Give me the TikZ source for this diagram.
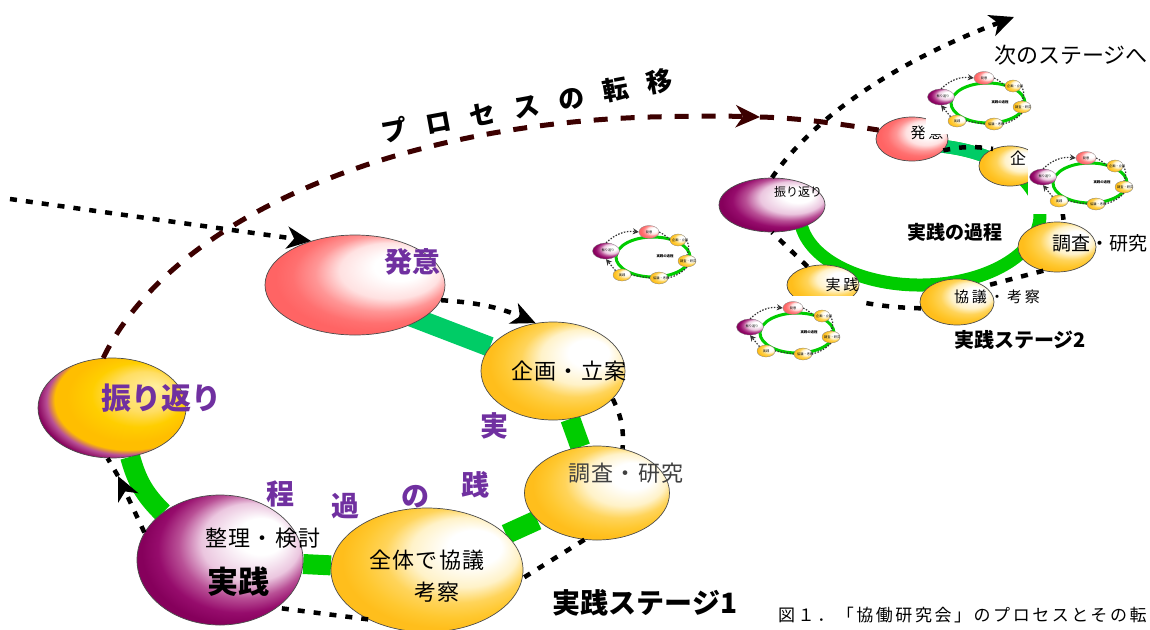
\documentclass[tikz,border=0pt]{standalone}
\usepackage{fontspec}
\setmainfont{Noto Sans CJK JP}
\usetikzlibrary{shapes.geometric,arrows.meta,backgrounds}

\definecolor{labpurple}{RGB}{112,48,160}
\definecolor{ringgreen}{RGB}{0,204,0}
\definecolor{ringteal}{RGB}{0,204,102}
\definecolor{transbrown}{RGB}{60,0,0}
\definecolor{pinkA}{RGB}{255,225,225}
\definecolor{pinkB}{RGB}{255,150,150}
\definecolor{pinkC}{RGB}{255,112,112}
\definecolor{pinkD}{RGB}{255,100,100}
\definecolor{yelA}{RGB}{255,242,200}
\definecolor{yelB}{RGB}{255,212,90}
\definecolor{yelC}{RGB}{255,200,48}
\definecolor{yelD}{RGB}{255,190,28}
\definecolor{purA}{RGB}{235,198,223}
\definecolor{purB}{RGB}{185,80,150}
\definecolor{purC}{RGB}{150,12,108}
\definecolor{purD}{RGB}{134,0,92}
\definecolor{furO}{RGB}{255,238,160}
\definecolor{furA}{RGB}{255,222,100}
\definecolor{furB}{RGB}{255,206,0}
\definecolor{furC}{RGB}{255,190,0}

% 輪郭は25bpに相当
\pgfdeclareradialshading{pinkball}{\pgfpoint{15bp}{11bp}}{color(0bp)=(white); color(7bp)=(white); color(14bp)=(pinkA); color(19bp)=(pinkB); color(23.5bp)=(pinkC); color(27bp)=(pinkD); color(40bp)=(pinkD)}
\pgfdeclareradialshading{yellowball}{\pgfpoint{15bp}{11bp}}{color(0bp)=(white); color(7bp)=(white); color(14bp)=(yelA); color(19bp)=(yelB); color(23.5bp)=(yelC); color(27bp)=(yelD); color(40bp)=(yelD)}
\pgfdeclareradialshading{purpleball}{\pgfpoint{15bp}{11bp}}{color(0bp)=(white); color(7bp)=(white); color(15bp)=(purA); color(20bp)=(purB); color(24.5bp)=(purC); color(28bp)=(purD); color(40bp)=(purD)}
\pgfdeclareradialshading{furiball}{\pgfpoint{15bp}{11bp}}{color(0bp)=(furO); color(10bp)=(furA); color(16bp)=(furB); color(22bp)=(furC); color(25bp)=(furC); color(27bp)=(purB); color(29.5bp)=(purD); color(40bp)=(purD)}

\tikzset{
  phase/.style={ellipse, draw=black!70, line width=0.7pt, inner sep=0pt, shade},
  lbl/.style={font=\fontsize{22}{22}\selectfont\addfontfeature{LetterSpace=6}, inner sep=0pt},
  plabel/.style={font=\bfseries\fontsize{28}{28}\selectfont, text=labpurple, inner sep=0pt},
  ring/.style={line width=20pt, draw=ringgreen},
  ringtwo/.style={line width=13pt, draw=ringgreen},
  cycdot/.style={line width=4.5pt, dash pattern=on 7pt off 9pt, draw=black},
  transfer/.style={line width=5pt, dash pattern=on 14pt off 13pt, draw=transbrown},
  bigtip/.style={-{Stealth[length=24pt,width=22pt,inset=7pt]}},
  mphase/.style={ellipse, draw=black!50, line width=0.3pt, inner sep=0pt, shade},
  mtext/.style={font=\fontsize{3.2}{3.2}\selectfont, inner sep=0pt},
  mdot/.style={line width=1.2pt, dash pattern=on 1.5pt off 1.5pt, draw=black!80},
  mtip/.style={-{Stealth[length=6pt,width=6pt]}},
  minicycle/.pic={
    \fill[white] (-62,-37) rectangle (62,31);
    \draw[line width=3pt, draw=ringgreen] (0,0) ellipse [x radius=37, y radius=20];
    \node[mphase, shading=pinkball, minimum width=20pt, minimum height=13pt] (-pk) at (-4,-25) {};
    \node[mphase, shading=yellowball, minimum width=16pt, minimum height=12pt] (-kk) at (25,-17) {};
    \node[mphase, shading=purpleball, minimum width=27pt, minimum height=16pt] (-fr) at (-47,-6) {};
    \node[mphase, shading=yellowball, minimum width=18pt, minimum height=12pt] (-ch) at (34,4) {};
    \node[mphase, shading=yellowball, minimum width=18pt, minimum height=12pt] (-ky) at (6,21) {};
    \node[mphase, shading=yellowball, minimum width=18pt, minimum height=12pt] (-jp) at (-31,18) {};
    \node[mtext] (-pkt) at (-4,-25) {発意};
    \node[mtext, anchor=west] (-kkt) at (19,-17) {企画・立案};
    \node[mtext] (-frt) at (-45,-7) {振り返り};
    \node[mtext, anchor=west] (-cht) at (27,4) {調査・研究};
    \node[mtext, anchor=west] (-kyt) at (0,21) {協議・考察};
    \node[mtext] (-jpt) at (-31,18) {実践};
    \node[mtext, font=\bfseries\fontsize{3.4}{3.4}\selectfont] (-kt) at (12,-1) {実践の過程};
    \draw[mdot, mtip] (-fr.north) to[bend left=25] (-pk.west);
    \draw[mdot] (-pk.east) to[bend left=10] (-kk.west);
    \draw[mdot] (-kk.east) to[bend left=30] (-ch.north);
    \draw[mdot] (-ch.south) to[bend left=15] (-ky.east);
    \draw[mdot] (-ky.west) -- (-jp.east);
    \draw[mdot, mtip] (-jp.north west) -- (-fr.south);
  }
}

\begin{document}
\begin{tikzpicture}[x=1pt, y=-1pt]
\useasboundingbox (0,0) rectangle (1150,629);

% 実践ステージ1
\node[phase, shading=pinkball, minimum width=180pt, minimum height=100pt] (hatsui) at (355,285) {};
\node[phase, shading=yellowball, minimum width=144pt, minimum height=98pt] (kikaku) at (553,371) {};
\node[phase, shading=yellowball, minimum width=192pt, minimum height=124pt] (zentai) at (427,570) {};
\node[phase, shading=yellowball, minimum width=145pt, minimum height=94pt] (chosa) at (597,493) {};
\node[phase, shading=purpleball, minimum width=166pt, minimum height=130pt] (jissen) at (220,560) {};
\node[phase, shading=furiball, minimum width=148pt, minimum height=100pt] (furi) at (112,408) {};

\node[plabel] (hatsuit) at (412,262) {発意};
\node[lbl] (kikakut) at (569,371) {企画・立案};
\node[lbl, text=black!75] (chosat) at (626,473) {調査・研究};
\node[lbl] (seirit) at (263,538) {整理・検討};
\node[lbl, font=\bfseries\fontsize{31}{31}\selectfont] (jissent) at (238,582) {実践};
\node[lbl] (zentait) at (427,560) {全体で協議};
\node[lbl] (kosatsut) at (437,592) {考察};
\node[plabel, font=\bfseries\fontsize{30}{30}\selectfont] (furit) at (161,398) {振り返り};

% 実践の過程（弧に沿って）
\node[plabel] (arcA) at (494,426) {実};
\node[plabel] (arcB) at (475,485) {践};
\node[plabel] (arcC) at (415,497) {の};
\node[plabel] (arcD) at (345,506) {過};
\node[plabel] (arcE) at (280,494) {程};

\node[font=\bfseries\fontsize{28}{28}\selectfont, inner sep=0pt] (stageone) at (645,603) {実践ステージ1};
\node[font=\bfseries\fontsize{26}{26}\selectfont\addfontfeature{LetterSpace=73}, inner sep=0pt, rotate=10.4] (transt) at (527,106) {プロセスの転移};
\node[font=\fontsize{17}{17}\selectfont\addfontfeature{LetterSpace=15}, inner sep=0pt, anchor=west] (caption) at (778,615) {図１．「協働研究会」のプロセスとその転};

% 実践ステージ2
\node[phase, shading=purpleball, minimum width=106pt, minimum height=54pt] (hur2) at (772,205) {};
\node[phase, shading=pinkball, minimum width=72pt, minimum height=44pt] (hatsui2) at (912,139) {};
\node[phase, shading=yellowball, minimum width=62pt, minimum height=40pt] (kikaku2) at (1010,166) {};
\node[phase, shading=yellowball, minimum width=78pt, minimum height=50pt] (chosa2) at (1057,247) {};
\node[phase, shading=yellowball, minimum width=74pt, minimum height=46pt] (kyogi2) at (957,302) {};
\node[phase, shading=yellowball, minimum width=72pt, minimum height=40pt] (jissen2) at (823,285) {};

\node[font=\fontsize{12}{12}\selectfont, inner sep=0pt] (hur2t) at (798,192) {振り返り};
\node[font=\fontsize{15}{15}\selectfont\addfontfeature{LetterSpace=18}, inner sep=0pt] (hatsui2t) at (927,133) {発意};
\node[font=\fontsize{16}{16}\selectfont, inner sep=0pt] (kikaku2t) at (1018,158) {企};
\node[font=\fontsize{19}{19}\selectfont, inner sep=0pt] (chosa2t) at (1100,243) {調査・研究};
\node[font=\fontsize{15}{15}\selectfont\addfontfeature{LetterSpace=18}, inner sep=0pt] (kyogi2t) at (997,297) {協議・考察};
\node[font=\fontsize{15}{15}\selectfont\addfontfeature{LetterSpace=18}, inner sep=0pt] (jissen2t) at (842,285) {実践};
\node[font=\bfseries\fontsize{19}{19}\selectfont, inner sep=0pt] (katei2t) at (955,232) {実践の過程};
\node[font=\bfseries\fontsize{20}{20}\selectfont, inner sep=0pt] (stagetwo) at (1020,340) {実践ステージ2};
\node[font=\fontsize{22}{22}\selectfont, inner sep=0pt] (nextt) at (1071,55) {次のステージへ};

% 緑の輪
\begin{scope}[on background layer]
\draw[ring, draw=ringteal] ([yshift=-10pt]hatsui.center) -- (kikaku);
\draw[ring] (kikaku) -- (chosa);
\draw[ring] (chosa) -- (zentai);
\draw[ring] (zentai) -- (jissen);
\draw[ring] (jissen) to[bend left=15] (furi);
\draw[ringtwo] (909.5,145.3) arc[start angle=-95, end angle=170, x radius=120, y radius=70];
\draw[ringtwo, draw=ringteal] (909.5,145.3) arc[start angle=-95, end angle=-40, x radius=120, y radius=70];
\end{scope}

% 矢印
\coordinate (prevstage) at (10,199);
\draw[cycdot, bigtip] (prevstage) -- (hatsui.135);
\draw[cycdot, bigtip] (hatsui.-10) to[bend left=10] (kikaku.110);
\draw[cycdot] (kikaku.-25) to[bend left=15] (chosa.60);
\draw[cycdot] (chosa.-105) -- (zentai.-5);
\draw[cycdot] (zentai.220) -- (jissen.-40);
\coordinate (furimid) at (118,476);
\draw[cycdot, bigtip] (jissen.160) -- (furimid);
\draw[cycdot] (furimid) -- (furi.-95);

\coordinate (transmid) at (760,117);
\draw[transfer, bigtip] (furi.100) .. controls (170,220) and (390,125) .. (650,117) .. controls (690,116) and (730,116) .. (transmid);
\draw[transfer] (transmid) .. controls (800,118) and (840,124) .. (hatsui2.165);

\coordinate (nextstage) at (1014,17);
\draw[cycdot, bigtip] (hur2.90) .. controls (815,115) and (900,60) .. (nextstage);
\draw[cycdot] (hatsui2.-20) to[bend left=10] (kikaku2.135);
\draw[cycdot] (kikaku2.-10) to[bend left=20] (chosa2.75);
\draw[cycdot] (chosa2.-120) -- (kyogi2.30);
\draw[cycdot] (kyogi2.190) to[bend left=5] (jissen2.-30);
\draw[cycdot] (jissen2.130) -- (hur2.-90);

% 小さなサイクル
\pic (miniA) at (653,257) {minicycle};
\pic (miniB) at (797,333) {minicycle};
\pic (miniC) at (988,103) {minicycle};
\pic (miniD) at (1090,183) {minicycle};
\end{tikzpicture}
\end{document}
